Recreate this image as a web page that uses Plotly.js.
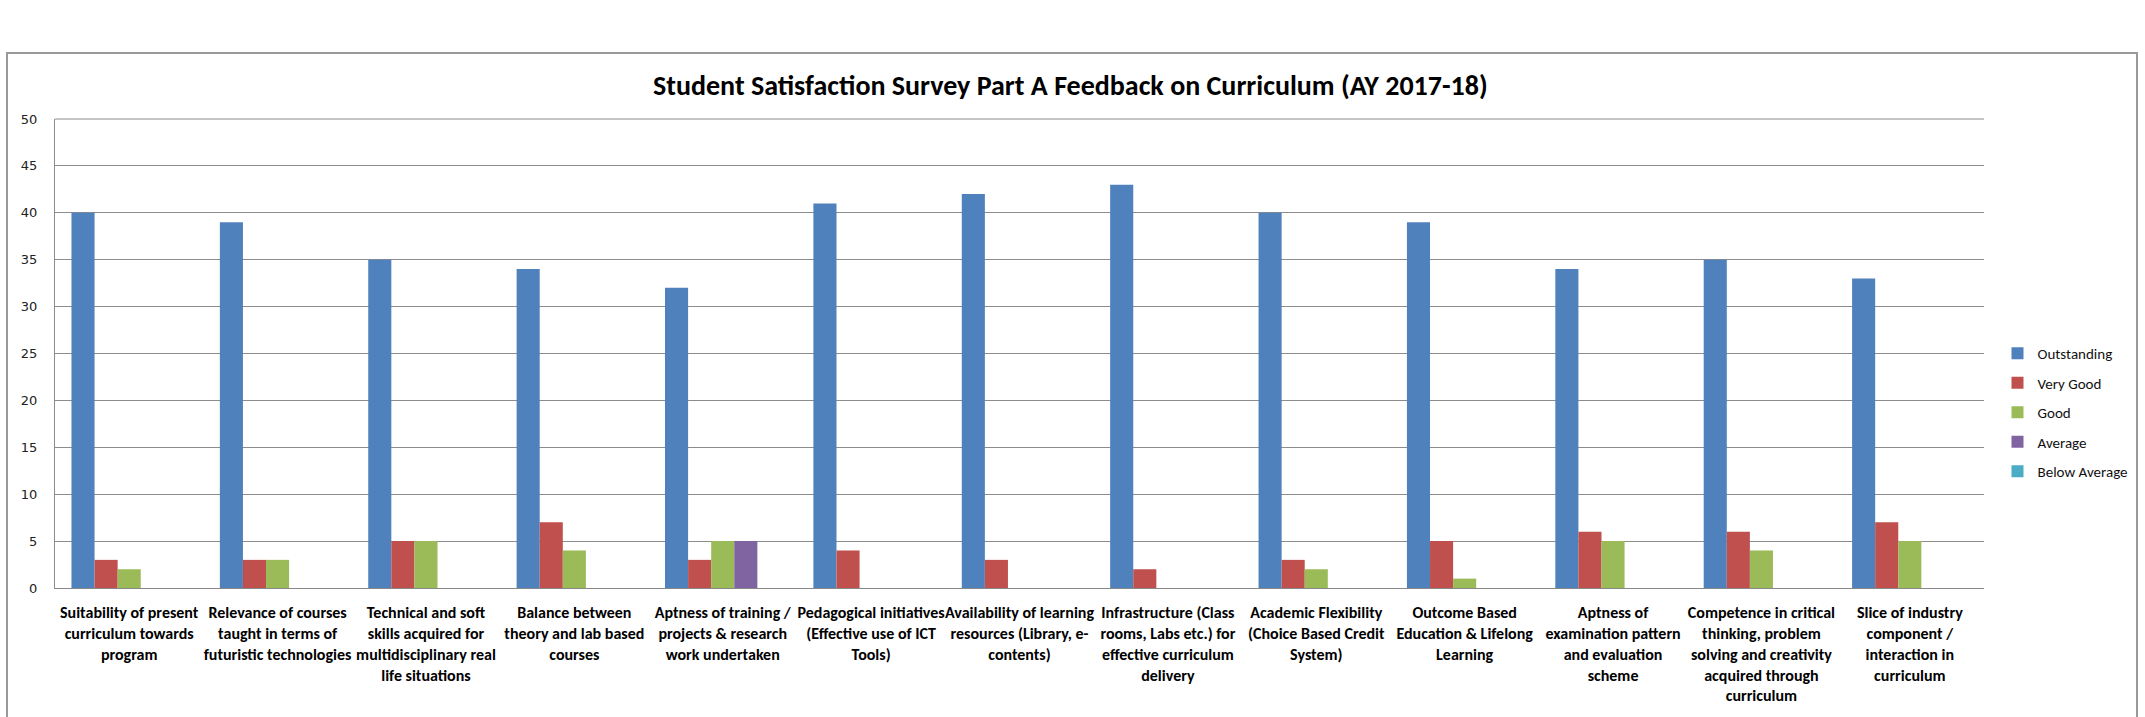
<!DOCTYPE html>
<html>
<head>
<meta charset="utf-8">
<script src="https://cdn.plot.ly/plotly-3.0.1.min.js"></script>
<style>
html,body{margin:0;padding:0;background:#fff;}
#chart{width:2145px;height:717px;}
</style>
</head>
<body>
<div id="chart"></div>
<script>
const categories = [
  "Suitability of present<br>curriculum towards<br>program",
  "Relevance of courses<br>taught in terms of<br>futuristic technologies",
  "Technical and soft<br>skills acquired for<br>multidisciplinary real<br>life situations",
  "Balance between<br>theory and lab based<br>courses",
  "Aptness of training /<br>projects & research<br>work undertaken",
  "Pedagogical initiatives<br>(Effective use of ICT<br>Tools)",
  "Availability of learning<br>resources (Library, e-<br>contents)",
  "Infrastructure (Class<br>rooms, Labs etc.) for<br>effective curriculum<br>delivery",
  "Academic Flexibility<br>(Choice Based Credit<br>System)",
  "Outcome Based<br>Education & Lifelong<br>Learning",
  "Aptness of<br>examination pattern<br>and evaluation<br>scheme",
  "Competence in critical<br>thinking, problem<br>solving and creativity<br>acquired through<br>curriculum",
  "Slice of industry<br>component /<br>interaction in<br>curriculum"
];
const seriesNames = ["Outstanding", "Very Good", "Good", "Average", "Below Average"];
const outstanding  = [40, 39, 35, 34, 32, 41, 42, 43, 40, 39, 34, 35, 33];
const veryGood     = [3, 3, 5, 7, 3, 4, 3, 2, 3, 5, 6, 6, 7];
const good         = [2, 3, 5, 4, 5, 0, 0, 0, 2, 1, 5, 4, 5];
const average      = [0, 0, 0, 0, 5, 0, 0, 0, 0, 0, 0, 0, 0];
const belowAverage = [0, 0, 0, 0, 0, 0, 0, 0, 0, 0, 0, 0, 0];
const colors = ["#4F81BD", "#C0504D", "#9BBB59", "#8064A2", "#4BACC6"];
const yTicks = [0, 5, 10, 15, 20, 25, 30, 35, 40, 45, 50];

const allSeries = [outstanding, veryGood, good, average, belowAverage];
const narrow = "Carlito, 'Liberation Sans Narrow', 'DejaVu Sans Condensed', sans-serif";

const traces = allSeries.map((vals, i) => ({
  type: "bar",
  name: seriesNames[i],
  x: categories,
  y: vals,
  legendgroup: "g" + i,
  marker: {color: colors[i], line: {width: 0}},
  hoverinfo: "x+y+name"
}));

const layout = {
  width: 2145,
  height: 717,
  paper_bgcolor: "#ffffff",
  plot_bgcolor: "#ffffff",
  margin: {l: 55, r: 161, t: 119, b: 129, pad: 0},
  title: {
    text: "<b>Student Satisfaction Survey Part A Feedback on Curriculum (AY 2017-18)</b>",
    font: {family: narrow, size: 28, color: "#000"},
    x: 0.499, xref: "container", xanchor: "center",
    y: 1 - 85/717, yref: "container", yanchor: "middle"
  },
  bargap: 0.222,
  bargroupgap: 0,
  barmode: "group",
  showlegend: true,
  legend: {
    x: 1.007, xanchor: "left",
    y: 1 - (353 - 119 - 16) / 469, yanchor: "top",
    font: {family: narrow, size: 15, color: "#111"},
    traceorder: "grouped",
    tracegroupgap: 7,
    itemwidth: 30,
    bgcolor: "rgba(0,0,0,0)"
  },
  xaxis: {
    type: "category",
    showgrid: false,
    showline: true,
    linecolor: "#888",
    linewidth: 1,
    ticks: "",
    ticklabelstandoff: 10,
    tickangle: 0,
    tickfont: {family: narrow, size: 16, color: "#000", weight: "bold"},
    automargin: false
  },
  yaxis: {
    range: [0, 50],
    tickvals: yTicks,
    ticktext: yTicks.map(String),
    showgrid: true,
    gridcolor: "#8c8c8c",
    gridwidth: 1,
    showline: true,
    linecolor: "#8c8c8c",
    linewidth: 1,
    ticks: "",
    ticklabelstandoff: 14,
    zeroline: false,
    tickfont: {family: "'DejaVu Sans', Verdana, sans-serif", size: 13, color: "#222"},
    automargin: false
  },
  shapes: [
    {type: "rect", xref: "paper", yref: "paper",
     x0: (7 - 55) / 1929, x1: (2137 - 55) / 1929,
     y0: -0.5, y1: 1 + (119 - 53) / 469,
     line: {color: "#999", width: 2}, fillcolor: "rgba(0,0,0,0)", layer: "below"},
    {type: "line", xref: "paper", yref: "paper",
     x0: 0, x1: 1, y0: 1, y1: 1,
     line: {color: "#8c8c8c", width: 1}}
  ]
};

Plotly.newPlot("chart", traces, layout, {displayModeBar: false, staticPlot: false});
</script>
</body>
</html>
